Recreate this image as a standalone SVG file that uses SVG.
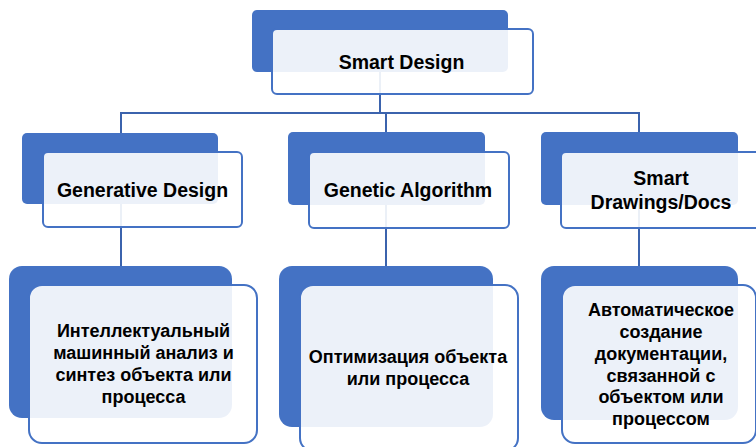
<svg xmlns="http://www.w3.org/2000/svg" width="756" height="447" viewBox="0 0 756 447">
<style>
.back{fill:#4472C4;}
.front{fill:#FFFFFF;fill-opacity:0.9;stroke:#4472C4;stroke-width:2;}
.conn{fill:none;stroke:#3B63AD;stroke-width:2;}
.t{font-family:"Liberation Sans",Arial,sans-serif;font-weight:bold;fill:#000000;text-anchor:middle;}
.t1{font-size:19.5px;}
.t2{font-size:18px;}
</style>
<rect width="756" height="447" fill="#FFFFFF"/>
<g id="connectors">
<path class="conn" d="M380,72 V113"/>
<path class="conn" d="M121,133 V113 H639 V132"/>
<path class="conn" d="M386,113 V132"/>
<path class="conn" d="M121,204 V266"/>
<path class="conn" d="M386,205 V266"/>
<path class="conn" d="M639,205 V266"/>
</g>
<g id="smart-design">
<rect class="back" x="252" y="10" width="256" height="62" rx="5"/>
<rect class="front" x="272" y="29" width="261" height="65" rx="5"/>
<text class="t t1" x="401.5" y="69">Smart Design</text>
</g>
<g id="generative-design">
<rect class="back" x="22" y="133" width="196" height="71" rx="5"/>
<rect class="front" x="43" y="152" width="199" height="75" rx="5"/>
<text class="t t1" x="142.5" y="197">Generative Design</text>
</g>
<g id="genetic-algorithm">
<rect class="back" x="288" y="132" width="197" height="73" rx="5"/>
<rect class="front" x="309" y="152" width="200" height="76" rx="5"/>
<text class="t t1" x="408" y="197">Genetic Algorithm</text>
</g>
<g id="smart-drawings">
<rect class="back" x="541" y="132" width="197" height="73" rx="5"/>
<rect class="front" x="561" y="152" width="200" height="76" rx="5"/>
<text class="t t1" x="661" y="185">Smart</text>
<text class="t t1" x="661" y="209">Drawings/Docs</text>
</g>
<g id="generative-desc">
<rect class="back" x="9" y="266" width="223" height="152" rx="13"/>
<rect class="front" x="29" y="285" width="228" height="158" rx="13"/>
<text class="t t2" x="143.5" y="337">Интеллектуальный</text>
<text class="t t2" x="143.5" y="359">машинный анализ и</text>
<text class="t t2" x="143.5" y="381">синтез объекта или</text>
<text class="t t2" x="143.5" y="403">процесса</text>
</g>
<g id="genetic-desc">
<rect class="back" x="279" y="266" width="214" height="161" rx="13"/>
<rect class="front" x="300" y="285" width="218" height="166" rx="13"/>
<text class="t t2" x="408" y="363">Оптимизация объекта</text>
<text class="t t2" x="408" y="385">или процесса</text>
</g>
<g id="drawings-desc">
<rect class="back" x="541" y="266" width="197" height="154" rx="13"/>
<rect class="front" x="562" y="285" width="194" height="158" rx="13"/>
<text class="t t2" x="661" y="316">Автоматическое</text>
<text class="t t2" x="661" y="338">создание</text>
<text class="t t2" x="661" y="360">документации,</text>
<text class="t t2" x="661" y="382">связанной с</text>
<text class="t t2" x="661" y="403">объектом или</text>
<text class="t t2" x="661" y="425">процессом</text>
</g>
</svg>
